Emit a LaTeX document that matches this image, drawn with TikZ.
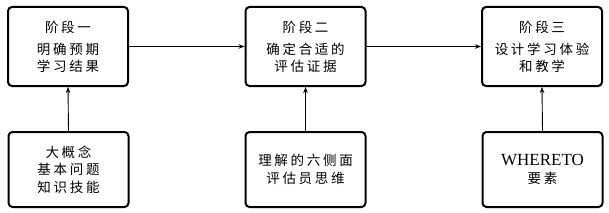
\documentclass[tikz,border=0pt]{standalone}
\usepackage{fontspec}
\setmainfont{Liberation Serif}
\newfontfamily\cjk{Noto Sans CJK SC}[LetterSpace=20]
\usetikzlibrary{arrows.meta}
\begin{document}
\begin{tikzpicture}[x=1pt,y=1pt,
  stage/.style={draw,line width=2pt,rounded corners=4pt,minimum width=120pt,minimum height=79pt,inner sep=0pt,align=center,font=\cjk\fontsize{13.5}{16.5}\selectfont},
  base/.style={draw,line width=2pt,rounded corners=4pt,minimum width=120pt,minimum height=75pt,inner sep=0pt,align=center,font=\cjk\fontsize{13.5}{17.5}\selectfont},
  link/.style={line width=0.9pt,-{Stealth[length=6pt,width=4.5pt]}}]
\useasboundingbox (0,0) rectangle (609,212);
\node[stage] (s1) at (68,165.5) {阶段一\\[6pt]明确预期\\学习结果};
\node[stage] (s2) at (305.5,165.5) {阶段二\\[6pt]确定合适的\\评估证据};
\node[stage] (s3) at (542,165.5) {阶段三\\[6pt]设计学习体验\\和教学};
\node[base] (b1) at (68.5,42.5) {大概念\\基本问题\\知识技能};
\node[base] (b2) at (305.5,42.5) {理解的六侧面\\评估员思维};
\node[base] (b3) at (542.5,42.5) {{\rmfamily\fontsize{17}{18}\selectfont WHERETO}\\要素};
\draw[link] (s1.east) -- (s2.west);
\draw[link] (s2.east) -- (s3.west);
\draw[link] (b1.north) -- (s1.south);
\draw[link] (b2.north) -- (s2.south);
\draw[link] (b3.north) -- (s3.south);
\end{tikzpicture}
\end{document}
